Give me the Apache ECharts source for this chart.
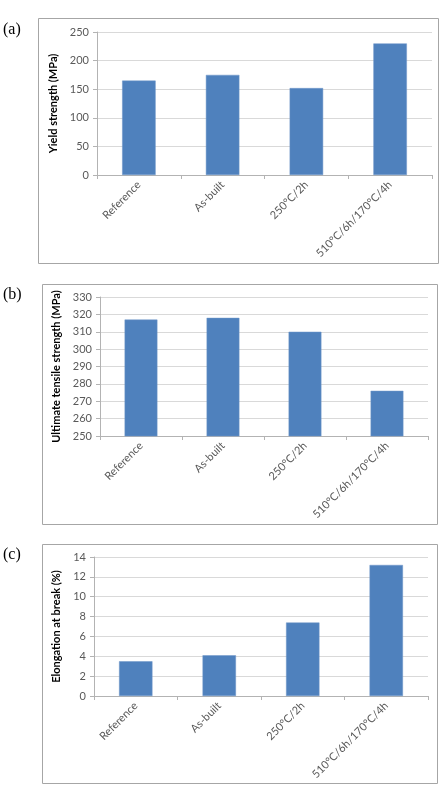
<!DOCTYPE html>
<html>
<head>
<meta charset="utf-8">
<script src="https://cdn.jsdelivr.net/npm/echarts@6/dist/echarts.min.js"></script>
<style>
html, body { margin: 0; padding: 0; background: #fff; }
#chart { width: 446px; height: 790px; }
</style>
</head>
<body>
<div id="chart"></div>
<script>
// categories shared by the three panels
var categories = ['Reference', 'As-built', '250°C/2h', '510°C/6h/170°C/4h'];

// (a) yield strength, MPa
var yieldValues = [165, 175, 152, 230];
// (b) ultimate tensile strength, MPa
var utsValues = [317, 318, 310, 276];
// (c) elongation at break, %
var elongValues = [3.5, 4.1, 7.4, 13.2];

var panelLabels = ['(a)', '(b)', '(c)'];
var axisNames = ['Yield strength (MPa)', 'Ultimate tensile strength (MPa)', 'Elongation at break (%)'];

var barColor = '#4f81bd';
var textColor = '#595959';
var fontFam = 'Lato, "Open Sans", sans-serif';

var chart = echarts.init(document.getElementById('chart'));

function xAxisFor(idx) {
    return {
        type: 'category',
        gridIndex: idx,
        data: categories,
        axisLine: { lineStyle: { color: '#b3b3b3' } },
        axisTick: { show: true, alignWithLabel: false, length: 4, lineStyle: { color: '#b3b3b3' } },
        axisLabel: { rotate: 45, color: textColor, fontSize: 11, fontFamily: fontFam, margin: 8, interval: 0 }
    };
}

function yAxisFor(idx, min, max, interval, gap) {
    return {
        type: 'value',
        gridIndex: idx,
        min: min, max: max, interval: interval,
        name: axisNames[idx],
        nameLocation: 'middle',
        nameGap: gap,
        nameTextStyle: { color: '#000', fontSize: 11, fontWeight: 'bold', fontFamily: fontFam },
        axisLine: { show: true, lineStyle: { color: '#b3b3b3' } },
        axisTick: { show: true, length: 4, lineStyle: { color: '#b3b3b3' } },
        axisLabel: { color: textColor, fontSize: 11, fontFamily: fontFam, margin: 8 },
        splitLine: { lineStyle: { color: '#d9d9d9' } }
    };
}

function seriesFor(idx, values) {
    return {
        type: 'bar',
        xAxisIndex: idx,
        yAxisIndex: idx,
        data: values,
        barCategoryGap: '60%',
        itemStyle: { color: barColor, borderColor: '#6f97c9', borderWidth: 0.5 },
        silent: true
    };
}

var boxes = [
    { x: 38, y: 18, w: 400, h: 245 },
    { x: 42, y: 284, w: 395, h: 240 },
    { x: 42, y: 544, w: 395, h: 239 }
];
var labelY = [30, 295, 555];

var graphics = [];
boxes.forEach(function (b, i) {
    graphics.push({
        type: 'rect',
        shape: { x: b.x + 0.5, y: b.y + 0.5, width: b.w, height: b.h },
        style: { fill: 'none', stroke: '#a6a6a6', lineWidth: 1 },
        silent: true
    });
    graphics.push({
        type: 'text',
        x: 3, y: labelY[i],
        style: {
            text: panelLabels[i],
            fill: '#000',
            font: '16px "Liberation Serif", "DejaVu Serif", serif',
            verticalAlign: 'middle'
        },
        silent: true
    });
});

var option = {
    animation: false,
    backgroundColor: '#fff',
    grid: [
        { left: 97, top: 32, right: 14, height: 143, outerBoundsMode: 'none' },
        { left: 100, top: 297, right: 18, height: 139, outerBoundsMode: 'none' },
        { left: 94, top: 557, right: 18, height: 139, outerBoundsMode: 'none' }
    ],
    xAxis: [xAxisFor(0), xAxisFor(1), xAxisFor(2)],
    yAxis: [
        yAxisFor(0, 0, 250, 50, 30),
        yAxisFor(1, 250, 330, 10, 31),
        yAxisFor(2, 0, 14, 2, 25)
    ],
    series: [
        seriesFor(0, yieldValues),
        seriesFor(1, utsValues),
        seriesFor(2, elongValues)
    ],
    graphic: graphics
};

chart.setOption(option);
</script>
</body>
</html>
